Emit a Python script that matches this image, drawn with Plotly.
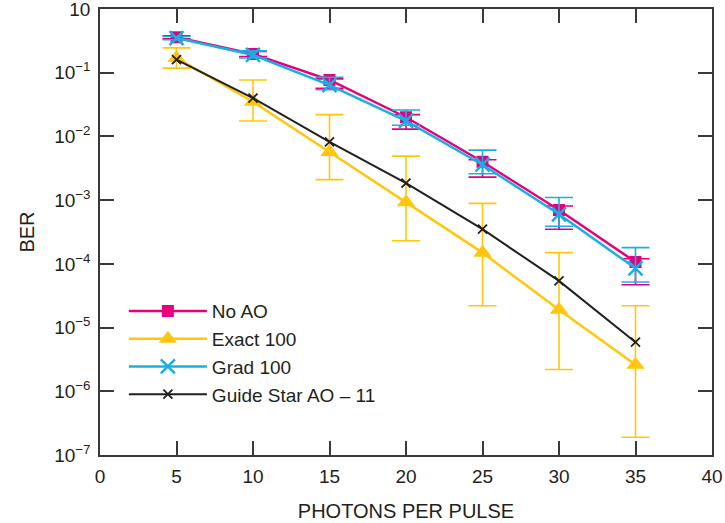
import plotly.graph_objects as go

photons = [5, 10, 15, 20, 25, 30, 35]

no_ao = [0.36, 0.197, 0.077, 0.020, 0.0040, 7.0e-4, 1.07e-4]
no_ao_hi = [0.38, 0.215, 0.080, 0.022, 0.0043, 8.1e-4, 1.2e-4]
no_ao_lo = [0.34, 0.180, 0.057, 0.013, 0.0023, 3.5e-4, 4.7e-5]

exact = [0.17, 0.035, 0.0057, 9.3e-4, 1.5e-4, 1.9e-5, 2.6e-6]
exact_hi = [0.245, 0.077, 0.022, 4.9e-3, 8.9e-4, 1.5e-4, 2.2e-5]
exact_lo = [0.118, 0.0175, 0.0021, 2.3e-4, 2.2e-5, 2.2e-6, 1.9e-7]

grad = [0.35, 0.19, 0.064, 0.0175, 0.0036, 6.0e-4, 8.5e-5]
grad_hi = [0.37, 0.22, 0.085, 0.026, 0.0061, 1.1e-3, 1.8e-4]
grad_lo = [0.33, 0.17, 0.054, 0.015, 0.0026, 3.9e-4, 5.2e-5]

guide = [0.16, 0.040, 0.0082, 1.85e-3, 3.5e-4, 5.4e-5, 5.9e-6]

y_tickvals = [1, 1e-1, 1e-2, 1e-3, 1e-4, 1e-5, 1e-6, 1e-7]
y_ticktext = ["10", "10<sup>−1</sup>", "10<sup>−2</sup>", "10<sup>−3</sup>",
              "10<sup>−4</sup>", "10<sup>−5</sup>", "10<sup>−6</sup>", "10<sup>−7</sup>"]
x_tickvals = [0, 5, 10, 15, 20, 25, 30, 35, 40]

MAGENTA = "#E6007E"
YELLOW = "#FFC60B"
CYAN = "#1AAEE6"
BLACK = "#231F20"
FONT = "Liberation Sans, Arial, sans-serif"


def err(vals, hi, lo, color):
    return dict(type="data", symmetric=False,
                array=[h - v for h, v in zip(hi, vals)],
                arrayminus=[v - l for v, l in zip(vals, lo)],
                color=color, thickness=1.6, width=14)


fig = go.Figure()
fig.add_trace(go.Scatter(
    x=photons, y=no_ao, name="No AO", mode="lines+markers",
    line=dict(color=MAGENTA, width=2.5),
    marker=dict(symbol="square", size=12, color=MAGENTA),
    error_y=err(no_ao, no_ao_hi, no_ao_lo, MAGENTA)))
fig.add_trace(go.Scatter(
    x=photons, y=exact, name="Exact 100", mode="lines+markers",
    line=dict(color=YELLOW, width=2.5),
    marker=dict(symbol="triangle-up", size=16, color=YELLOW),
    error_y=err(exact, exact_hi, exact_lo, YELLOW)))
fig.add_trace(go.Scatter(
    x=photons, y=grad, name="Grad 100", mode="lines+markers",
    line=dict(color=CYAN, width=2.5),
    marker=dict(symbol="x-thin", size=14, color=CYAN, line=dict(width=2.5, color=CYAN)),
    error_y=err(grad, grad_hi, grad_lo, CYAN)))
fig.add_trace(go.Scatter(
    x=photons, y=guide, name="Guide Star AO – 11", mode="lines+markers",
    line=dict(color=BLACK, width=2),
    marker=dict(symbol="x-thin", size=9, color=BLACK, line=dict(width=1.8, color=BLACK))))

axis_common = dict(showline=True, linecolor="#3a3a3a", linewidth=1.5, mirror="ticks",
                   ticks="inside", ticklen=14, tickwidth=1.5, tickcolor="#3a3a3a",
                   showgrid=False, zeroline=False, automargin=False,
                   ticklabeloverflow="allow",
                   tickfont=dict(family=FONT, size=19, color="#231F20"))

fig.update_layout(
    width=725, height=523,
    margin=dict(l=100, r=13, t=9, b=68),
    paper_bgcolor="white", plot_bgcolor="white",
    font=dict(family=FONT, size=20, color="#231F20"),
    xaxis=dict(range=[0, 40], tickvals=x_tickvals,
               title=dict(text="PHOTONS PER PULSE", standoff=18, font=dict(size=20)),
               ticklabelstandoff=3,
               **axis_common),
    yaxis=dict(type="log", range=[-7, 0], tickvals=y_tickvals, ticktext=y_ticktext,
               title=dict(text="BER", standoff=14, font=dict(size=20)),
               ticklabelstandoff=4,
               **axis_common),
    legend=dict(x=0.039, y=0.365, xanchor="left", yanchor="top",
                bgcolor="rgba(0,0,0,0)", font=dict(size=19), itemwidth=78,
                tracegroupgap=0),
    showlegend=True,
)

fig.write_html("out.html", config={"displayModeBar": False},
               post_script="document.body.style.margin='0';")
